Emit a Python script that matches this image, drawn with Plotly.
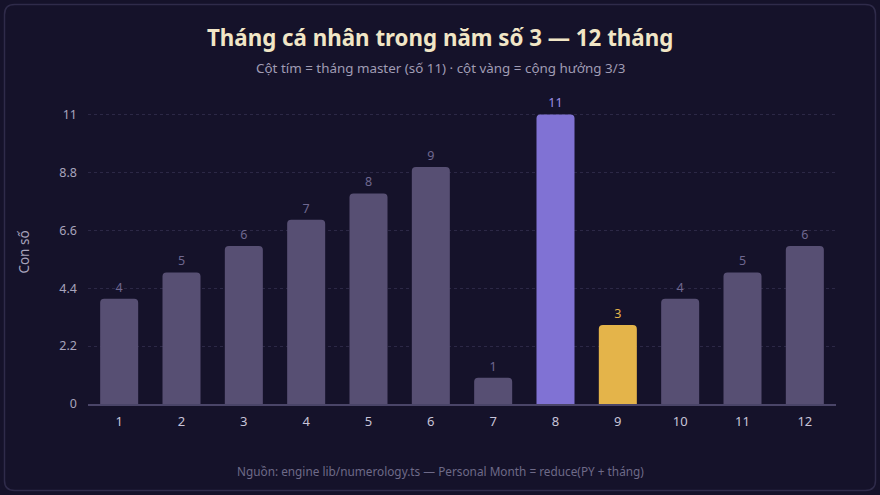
import plotly.graph_objects as go

months = ["1", "2", "3", "4", "5", "6", "7", "8", "9", "10", "11", "12"]
values = [4, 5, 6, 7, 8, 9, 1, 11, 3, 4, 5, 6]
y_ticks = [0, 2.2, 4.4, 6.6, 8.8, 11]
y_tick_labels = ["0", "2.2", "4.4", "6.6", "8.8", "11"]

GRAY = "#574f73"
PURPLE = "#8072d4"
GOLD = "#e4b44a"
colors = []
text_colors = []
for i, v in enumerate(values):
    if v == 11:
        colors.append(PURPLE); text_colors.append("#9d90e6")
    elif i == 8:
        colors.append(GOLD); text_colors.append(GOLD)
    else:
        colors.append(GRAY); text_colors.append("#6f6890")

W, H = 880, 495
L, R, T, B = 88, 44, 100, 91
pw, ph = W - L - R, H - T - B

fig = go.Figure(go.Bar(
    x=months, y=values,
    marker=dict(color=colors, cornerradius=4, line=dict(width=0)),
    text=[str(v) for v in values],
    textposition="outside",
    textfont=dict(color=text_colors, size=12.5, family="Noto Sans"),
    cliponaxis=False,
    width=0.61,
    hoverinfo="skip",
))

def px2paper(x, y):
    return (x - L) / pw, 1 - (y - T) / ph

x0, y0, x1, y1, r = 4.5, 4.5, 875.5, 490.5, 10
def P(x, y):
    a, b = px2paper(x, y)
    return f"{a:.5f},{b:.5f}"
path = (f"M {P(x0 + r, y0)} L {P(x1 - r, y0)} Q {P(x1, y0)} {P(x1, y0 + r)} "
        f"L {P(x1, y1 - r)} Q {P(x1, y1)} {P(x1 - r, y1)} "
        f"L {P(x0 + r, y1)} Q {P(x0, y1)} {P(x0, y1 - r)} "
        f"L {P(x0, y0 + r)} Q {P(x0, y0)} {P(x0 + r, y0)} Z")

fig.update_layout(
    width=W, height=H,
    margin=dict(l=L, r=R, t=T, b=B),
    paper_bgcolor="#15122a",
    plot_bgcolor="#15122a",
    font=dict(family="Noto Sans", color="#aaa5bd"),
    showlegend=False,
    bargap=0.39,
    shapes=[dict(type="path", path=path, xref="paper", yref="paper",
                 line=dict(color="#2f2b4a", width=1.5), layer="below")],
    annotations=[
        dict(text="<b>Tháng cá nhân trong năm số 3 — 12 tháng</b>",
             x=(440 - L) / pw, y=px2paper(0, 38)[1], xref="paper", yref="paper",
             showarrow=False, font=dict(size=22.3, color="#f1e6c6", family="Noto Sans"),
             xanchor="center", yanchor="middle"),
        dict(text="Cột tím = tháng master (số 11) · cột vàng = cộng hưởng 3/3",
             x=(440 - L) / pw, y=px2paper(0, 68)[1], xref="paper", yref="paper",
             showarrow=False, font=dict(size=13.4, color="#a09cb4", family="Noto Sans"),
             xanchor="center", yanchor="middle"),
        dict(text="Nguồn: engine lib/numerology.ts — Personal Month = reduce(PY + tháng)",
             x=(440 - L) / pw, y=px2paper(0, 471)[1], xref="paper", yref="paper",
             showarrow=False, font=dict(size=11.8, color="#6e6a88", family="Noto Sans"),
             xanchor="center", yanchor="middle"),
    ],
)
fig.update_xaxes(
    type="category", showgrid=False, showline=True, linecolor="#4a4568", linewidth=1.5,
    ticks="", tickfont=dict(size=13, color="#c8c4d8"), ticklabelstandoff=5,
    zeroline=False,
)
fig.update_yaxes(
    range=[0, 11.55], tickvals=y_ticks, ticktext=y_tick_labels,
    showgrid=True, gridcolor="#2c2846", griddash="3px,3px", gridwidth=1,
    zeroline=False, showline=False, ticks="",
    tickfont=dict(size=12.5, color="#a8a4bc"), ticklabelstandoff=10,
    title=dict(text="Con số", font=dict(size=13.5, color="#a8a4bc"), standoff=26),
)

fig.write_html("out.html")
